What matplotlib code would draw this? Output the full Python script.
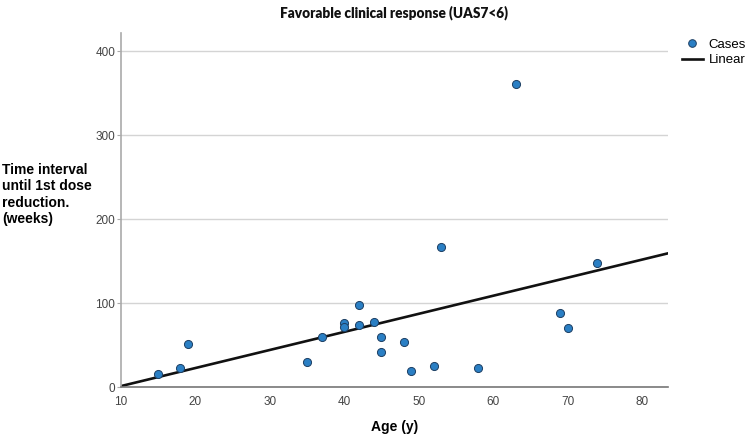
import numpy as np
import matplotlib
matplotlib.use("Agg")
import matplotlib.pyplot as plt
from matplotlib.lines import Line2D

age = [15, 18, 19, 35, 37, 40, 40, 42, 42, 44, 45, 45, 48, 49, 52, 58, 53, 63, 69, 70, 74]
weeks = [16, 23, 51.5, 30, 60, 76.5, 72, 98.7, 74.5, 78.5, 60, 42.7, 54.6, 19.3, 25.3, 23.6,
         167.8, 361.7, 88.8, 71, 148]
x_ticks = [10, 20, 30, 40, 50, 60, 70, 80]
y_ticks = [0, 100, 200, 300, 400]

fig = plt.figure(figsize=(7.5, 4.37), dpi=100)
ax = fig.add_axes([0.161, 0.1133, 0.73, 0.8112])

ax.set_xlim(10, 83.5)
ax.set_ylim(0, 422)

slope, intercept = np.polyfit(age, weeks, 1)
xs = np.array(ax.get_xlim())
ax.plot(xs, intercept + slope * xs, color="#111111", lw=1.9, zorder=2, solid_capstyle="butt")
ax.scatter(age, weeks, s=34, color="#2a7fc4", edgecolor="#1d3f63", linewidth=0.7, zorder=3)

ax.set_yticks(y_ticks)
ax.set_xticks(x_ticks)
ax.grid(axis="y", color="#d4d4d4", lw=1.0)
ax.set_axisbelow(True)
for s in ["top", "right"]:
    ax.spines[s].set_visible(False)
ax.spines["left"].set_color("#aaaaaa")
ax.spines["left"].set_linewidth(1.2)
ax.spines["bottom"].set_color("#777777")
ax.spines["bottom"].set_linewidth(1.2)
ax.tick_params(axis="y", length=3, color="#aaaaaa", labelsize=8.5, labelcolor="#444444", pad=1)
ax.tick_params(axis="x", length=0, labelsize=8.5, labelcolor="#444444", pad=6)
for lab in ax.get_xticklabels() + ax.get_yticklabels():
    lab.set_family("Liberation Sans")

fig.text(0.525, 0.972, "Favorable clinical response (UAS7<6)", ha="center", va="center",
         fontsize=9.8, fontweight="heavy", family="Lato", color="#111111")
ax.set_xlabel("Age (y)", fontsize=10, fontweight="bold", family="Liberation Sans", labelpad=9)
fig.text(0.003, 0.555, "Time interval\nuntil 1st dose\nreduction.\n(weeks)", ha="left", va="center",
         fontsize=10, fontweight="bold", family="Liberation Sans", linespacing=1.2)

handles = [Line2D([], [], marker="o", ls="none", markersize=5.5, markerfacecolor="#2a7fc4",
                  markeredgecolor="#1d3f63", markeredgewidth=0.7),
           Line2D([], [], color="#111111", lw=1.9)]
fig.legend(handles, ["Cases", "Linear"], loc="upper left", bbox_to_anchor=(0.909, 0.912),
           frameon=False, prop={"family": "Liberation Sans", "size": 9.5}, handlelength=1.6,
           handletextpad=0.45, labelspacing=0.25, borderpad=0, borderaxespad=0)

fig.savefig("out.png", dpi=100)
